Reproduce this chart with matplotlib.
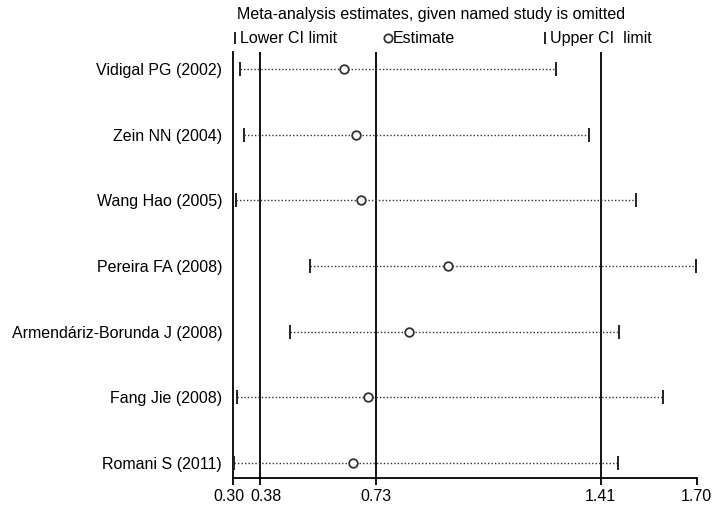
import matplotlib
matplotlib.use("Agg")
import matplotlib.pyplot as plt
from matplotlib.lines import Line2D
from matplotlib.transforms import ScaledTranslation

plt.rcParams['font.family'] = ['Liberation Sans', 'DejaVu Sans']

# studies omitted, top to bottom
studies = ["Vidigal PG (2002)", "Zein NN (2004)", "Wang Hao (2005)", "Pereira FA (2008)",
           "Armendáriz-Borunda J (2008)", "Fang Jie (2008)", "Romani S (2011)"]
estimate = [0.634, 0.671, 0.686, 0.949, 0.830, 0.708, 0.661]
lower = [0.320, 0.332, 0.308, 0.532, 0.471, 0.312, 0.303]
upper = [1.275, 1.374, 1.518, 1.698, 1.466, 1.599, 1.461]

# pooled estimate and CI (reference lines)
ref_lines = [0.38, 0.73, 1.41]
xticks = [0.30, 0.38, 0.73, 1.41, 1.70]
xtick_labels = ["0.30", "0.38", "0.73", "1.41", "1.70"]

fig = plt.figure(figsize=(7.24, 5.12), dpi=100)
ax = fig.add_axes([0.3223, 0.0664, 0.64, 0.832])

ypos = list(range(1, len(studies) + 1))

for x in ref_lines:
    ax.axvline(x, color='black', linewidth=1.3, zorder=1)

for y, lo, est, hi in zip(ypos, lower, estimate, upper):
    ax.plot([lo, hi], [y, y], linestyle=(0, (1, 1.5)), color='#333333', linewidth=1.0, zorder=2)
    ax.plot([lo, hi], [y, y], linestyle='none', marker='|', markersize=10,
            markeredgewidth=1.4, color='#222222', zorder=3)
    ax.plot(est, y, marker='o', markersize=6.2, markerfacecolor='white',
            markeredgecolor='#333333', markeredgewidth=1.3, linestyle='none', zorder=4)

ax.set_xlim(0.30, 1.70)
ax.set_ylim(7.23, 0.74)
ax.set_xticks(xticks)
ax.set_xticklabels(xtick_labels, fontsize=11.5)
ax.set_yticks(ypos)
ax.set_yticklabels(studies, fontsize=11.5)
ax.tick_params(axis='y', length=0, pad=8)
ax.tick_params(axis='x', length=5, width=1.3, pad=3)
ax.spines['top'].set_visible(False)
ax.spines['right'].set_visible(False)
ax.spines['left'].set_linewidth(1.3)
ax.spines['bottom'].set_linewidth(1.3)

# nudge the two crowded left tick labels apart
labels = ax.get_xticklabels()
labels[0].set_transform(labels[0].get_transform() + ScaledTranslation(-0.04, 0, fig.dpi_scale_trans))
labels[1].set_transform(labels[1].get_transform() + ScaledTranslation(0.06, 0, fig.dpi_scale_trans))

# legend / header
fig.text(0.327, 0.972, "Meta-analysis estimates, given named study is omitted",
         fontsize=11.5, ha='left', va='center')
ly = 0.925
fig.add_artist(Line2D([0.3245], [ly], marker='|', markersize=9, markeredgewidth=1.4,
                      color='#222222', transform=fig.transFigure))
fig.text(0.331, ly, "Lower CI limit", fontsize=11.5, ha='left', va='center')
fig.add_artist(Line2D([0.536], [ly], marker='o', markersize=6, markerfacecolor='white',
                      markeredgecolor='#333333', markeredgewidth=1.3, transform=fig.transFigure))
fig.text(0.543, ly, "Estimate", fontsize=11.5, ha='left', va='center')
fig.add_artist(Line2D([0.7525], [ly], marker='|', markersize=9, markeredgewidth=1.4,
                      color='#222222', transform=fig.transFigure))
fig.text(0.759, ly, "Upper CI  limit", fontsize=11.5, ha='left', va='center')

fig.savefig("out.png", dpi=100)
